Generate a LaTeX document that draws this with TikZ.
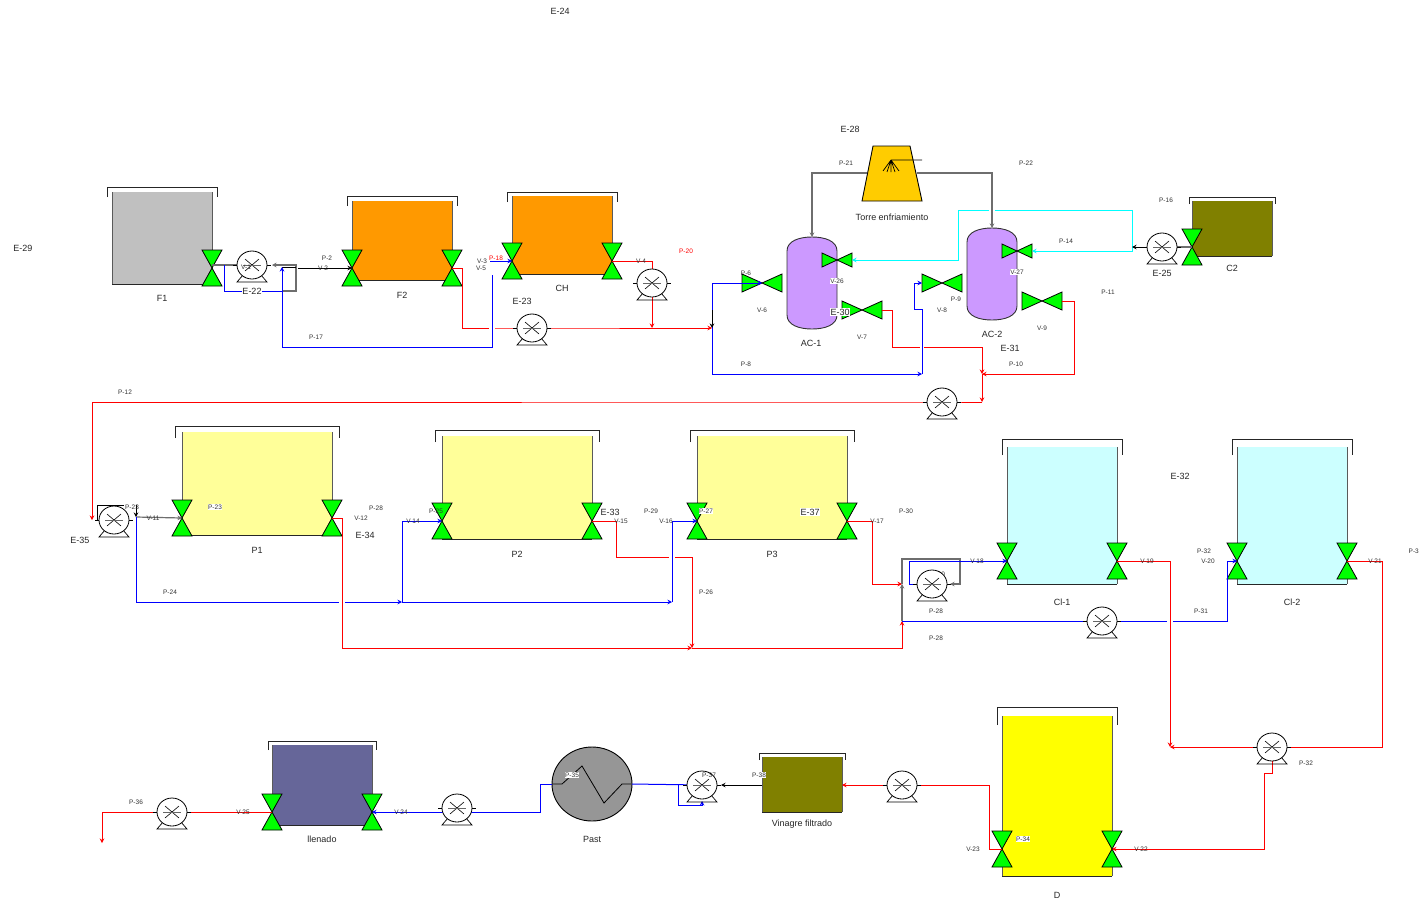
\documentclass[tikz,border=0pt]{standalone}
\usepackage{fontspec}
\setmainfont{Liberation Sans}
\usetikzlibrary{arrows.meta}
\definecolor{wallgray}{RGB}{90,90,90}
\definecolor{tankgray}{RGB}{192,192,192}
\definecolor{tankorange}{RGB}{255,153,0}
\definecolor{tankolive}{RGB}{128,128,0}
\definecolor{tankyellow}{RGB}{255,255,153}
\definecolor{tankcyan}{RGB}{204,255,255}
\definecolor{tankviolet}{RGB}{102,102,153}
\definecolor{tankpurple}{RGB}{204,153,255}
\definecolor{tankbright}{RGB}{255,255,0}
\definecolor{towergold}{RGB}{255,204,0}
\definecolor{pastgray}{RGB}{150,150,150}
\definecolor{pipered}{RGB}{255,0,0}
\definecolor{pipeblue}{RGB}{0,0,255}
\definecolor{pipecyan}{RGB}{0,255,255}
\definecolor{pipegray}{RGB}{110,110,110}
\definecolor{valvegreen}{RGB}{0,255,0}
\newcounter{labn}
\tikzset{
  x=1pt,y=-1pt,
  valvebody/.style={draw=black,fill=valvegreen,line width=0.8pt,line join=miter},
  tipped/.style={-{Stealth[length=4.5pt,width=4.5pt]}},
  redpipe/.style={draw=pipered,line width=1pt},
  bluepipe/.style={draw=pipeblue,line width=1pt},
  cyanpipe/.style={draw=pipecyan,line width=1pt},
  graypipe/.style={draw=pipegray,line width=1.2pt},
  blackpipe/.style={draw=black,line width=0.8pt},
  smalltext/.style={inner sep=0.5pt,font=\fontsize{6.5}{7}\selectfont,text=black!80},
  bigtext/.style={inner sep=0.5pt,font=\fontsize{9}{10}\selectfont,text=black!85},
  whitebg/.style={fill=white},
}
\newcommand{\tankbox}[8]{% x1 y1 x2 y2 colour drop offset rise
  \fill[#5] (#1,#2) rectangle (#3,#4);
  \draw[wallgray,line width=1pt] (#1,#2) -- (#1,#4);
  \draw[wallgray,line width=1pt] (#3,#2) -- (#3,#4);
  \draw[black!85,line width=1pt] (#1,#4) -- (#3,#4);
  \draw[black!85,line width=0.9pt] (#1-#7,#2+#6) -- (#1-#7,#2-#8) -- (#3+#7,#2-#8) -- (#3+#7,#2+#6);
}
\newcommand{\vvalve}[3]{% name x y
  \coordinate (#1) at (#2,#3);
  \draw[valvebody] (#2-10,#3-18) -- (#2+10,#3-18) -- (#2-10,#3+18) -- (#2+10,#3+18) -- cycle;
}
\newcommand{\hvalve}[5]{% name x y halfw halfh
  \coordinate (#1) at (#2,#3);
  \draw[valvebody] (#2-#4,#3-#5) -- (#2+#4,#3+#5) -- (#2+#4,#3-#5) -- (#2-#4,#3+#5) -- cycle;
}
\newcommand{\pumpsym}[3]{% name x y
  \coordinate (#1) at (#2,#3);
  \begin{scope}[shift={(#2,#3)}]
    \draw[black,line width=0.8pt] (-19,0) -- (-14,0) (14,0) -- (19,0);
    \draw[black,line width=0.7pt] (-9,10) -- (-15,17) -- (15,17) -- (9,10);
    \draw[black,fill=white,line width=0.8pt] (0,0) ellipse [x radius=15pt,y radius=14pt];
    \draw[black,line width=0.6pt] (-7,-6) -- (7,6) (-7,6) -- (7,-6);
    \draw[black!60,line width=0.8pt] (-9,0) -- (9,0);
  \end{scope}
}
\newcommand{\lab}[4][]{\stepcounter{labn}\node[smalltext,#1] (t\arabic{labn}) at (#2,#3) {#4};}
\newcommand{\labb}[4][]{\stepcounter{labn}\node[bigtext,#1] (t\arabic{labn}) at (#2,#3) {#4};}
\begin{document}
\begin{tikzpicture}
\useasboundingbox (0,0) rectangle (1420,900);
\fill[white] (0,0) rectangle (1420,900);

% hidden labels
\lab{938}{574}{P-30}

% tanks
\tankbox{112}{192}{212}{284}{tankgray}{5}{5}{5}
\tankbox{352}{201}{452}{280}{tankorange}{5}{5}{5}
\tankbox{512}{196}{612}{274}{tankorange}{6}{5}{4}
\tankbox{1192}{201}{1272}{256}{tankolive}{3}{3}{4}
\tankbox{182}{432}{332}{535}{tankyellow}{6}{7}{6}
\tankbox{442}{436}{592}{539}{tankyellow}{6}{7}{6}
\tankbox{697}{436}{847}{539}{tankyellow}{6}{7}{6}
\tankbox{1007}{447}{1117}{584}{tankcyan}{8}{5}{8}
\tankbox{1237}{447}{1347}{584}{tankcyan}{8}{5}{8}
\tankbox{1002}{716}{1112}{876}{tankbright}{9}{5}{9}
\tankbox{272}{745}{372}{825}{tankviolet}{5}{4}{4}
\tankbox{762}{757}{842}{812}{tankolive}{3}{3}{4}

% columns
\foreach \cx/\ct/\cb in {787/237/329,967/228/320}{
  \draw[black!80,fill=tankpurple,line width=0.9pt]
    (\cx,\ct+14) .. controls (\cx,\ct+4) and (\cx+12,\ct) .. (\cx+25,\ct)
    .. controls (\cx+38,\ct) and (\cx+50,\ct+4) .. (\cx+50,\ct+14)
    -- (\cx+50,\cb-14)
    .. controls (\cx+50,\cb-4) and (\cx+38,\cb) .. (\cx+25,\cb)
    .. controls (\cx+12,\cb) and (\cx,\cb-4) .. (\cx,\cb-14) -- cycle;
}

% cooling tower
\coordinate (towerL) at (867,173);
\coordinate (towerR) at (917,173);
\draw[black,fill=towergold,line width=0.9pt] (873,146) -- (910,146) -- (922,201) -- (862,201) -- cycle;
\coordinate (spray) at (891,160);
\draw[black,line width=0.7pt] (922,160) -- (spray) -- (883,171) (spray) -- (887,172) (spray) -- (891,172) (spray) -- (895,172) (spray) -- (899,171);

% exchanger
\coordinate (pastL) at (552,784);
\coordinate (pastR) at (632,784);
\draw[black,fill=pastgray,line width=0.9pt] (592,784) ellipse [x radius=40pt,y radius=37pt];
\draw[black,line width=0.8pt] (pastL) -- (562,784) -- (582,766) -- (604,803) -- (622,784) -- (pastR);

% valves
\vvalve{vF1}{212}{268}
\vvalve{vF2a}{352}{268}
\vvalve{vF2b}{452}{268}
\vvalve{vCHa}{512}{261}
\vvalve{vCHb}{612}{261}
\vvalve{vC2}{1192}{247}
\vvalve{vP1a}{182}{518}
\vvalve{vP1b}{332}{518}
\vvalve{vP2a}{442}{521}
\vvalve{vP2b}{592}{521}
\vvalve{vP3a}{697}{521}
\vvalve{vP3b}{847}{521}
\vvalve{vCaa}{1007}{561}
\vvalve{vCab}{1117}{561}
\vvalve{vCba}{1237}{561}
\vvalve{vCbb}{1347}{561}
\vvalve{vDa}{1002}{849}
\vvalve{vDb}{1112}{849}
\vvalve{vIa}{272}{812}
\vvalve{vIb}{372}{812}
\hvalve{v6}{762}{283}{20}{9}
\hvalve{v7}{862}{310}{20}{9}
\hvalve{v26}{837}{260}{15}{7}
\hvalve{v27}{1017}{251}{15}{7}
\hvalve{v8}{942}{283}{20}{9}
\hvalve{v9}{1042}{301}{20}{9}

% junction coordinates
\coordinate (pFeedE) at (282,267);
\coordinate (jR1) at (712,328);
\coordinate (jB1) at (922,374);
\coordinate (jR2) at (982,374);
\coordinate (jR3) at (982,402);
\coordinate (jR4) at (92,520);
\coordinate (jB2) at (136,517);
\coordinate (jB3) at (402,602);
\coordinate (jB4) at (672,602);
\coordinate (jR5) at (692,648);
\coordinate (jR6) at (902,621);
\coordinate (jR7) at (902,584);
\coordinate (jR8) at (1170,747);
\coordinate (jC1) at (1132,249);
\coordinate (colA) at (812,237);
\coordinate (colB) at (992,228);
\coordinate (outEnd) at (102,843);
\coordinate (vinL) at (762,785);
\coordinate (vinR) at (842,785);

% pumps coordinates used by pipes
\coordinate (p1) at (252,265);
\coordinate (p2) at (532,328);
\coordinate (p3) at (652,283);
\coordinate (p4) at (1162,247);
\coordinate (p5) at (942,402);
\coordinate (p6) at (114,520);
\coordinate (p7) at (932,584);
\coordinate (p8) at (1102,621);
\coordinate (p9) at (1272,747);
\coordinate (p10) at (902,785);
\coordinate (p11) at (702,785);
\coordinate (p12) at (457,808);
\coordinate (p13) at (172,812);

% first row pipes
\draw[graypipe] ([yshift=3pt]vF1) -- (p1);
\draw[bluepipe] (224,265) -- (224,291) -- (282,291);
\draw[graypipe,tipped] (282,291) -- (296,291) -- (296,265) -- (272,265);
\draw[blackpipe,tipped] (298,268) -- (vF2a);
\draw[blackpipe] (pFeedE) -- (296,267);
\draw[bluepipe,tipped] (492,275) -- (492,347) -- (282,347) -- (pFeedE);
\draw[bluepipe,tipped] (490,261) -- (vCHa);
\draw[redpipe] (vF2b) -- (462,268) -- (462,328) -- (489,328);
\draw[redpipe,tipped] (495,328) -- (p2) -- (jR1);
\draw[redpipe,tipped] (vCHb) -- (652,261) -- (p3) -- (652,328);

% absorbers
\draw[graypipe,tipped] (towerL) -- (812,173) -- (colA);
\draw[graypipe,tipped] (towerR) -- (992,173) -- (colB);
\draw[bluepipe,tipped] (712,283) -- (v6);
\draw[bluepipe,tipped] (712,283) -- (jR1) -- (712,374) -- (jB1);
\draw[bluepipe,tipped] (jB1) -- (922,309) -- (914,309) -- (914,283) -- (922,283);
\draw[blackpipe,tipped] (712,310) -- (jR1);
\draw[redpipe] ([xshift=20pt]v7) -- (892,310) -- (892,347) -- (920,347);
\draw[redpipe,tipped] (924,347) -- (982,347) -- (jR2);
\draw[redpipe,tipped] (jR2) -- (jR3);
\draw[redpipe,tipped] ([xshift=20pt]v9) -- (1074,301) -- (1074,374) -- (jR2);
\draw[redpipe,tipped] (jR3) -- (p5) -- (92,402) -- (jR4);
\draw[cyanpipe] (jC1) -- (1132,210) -- (995,210);
\draw[cyanpipe,tipped] (989,210) -- (958,210) -- (958,260) -- ([xshift=15pt]v26);
\draw[cyanpipe,tipped] (jC1) -- (1132,251) -- ([xshift=15pt]v27);
\draw[blackpipe,tipped] (p4) -- (1132,247);
\draw[graypipe] (vC2) -- (p4);

% second row pipes
\draw[blackpipe] (97,520) -- (97,505) -- (124,505);
\draw[blackpipe,tipped] (136,505) -- (jB2);
\draw[graypipe,tipped] (jB2) -- (vP1a);
\draw[bluepipe] (jB2) -- (136,602) -- (339,602);
\draw[bluepipe,tipped] (345,602) -- (jB3);
\draw[bluepipe,tipped] (jB3) -- (jB4);
\draw[bluepipe,tipped] (jB3) -- (402,521) -- (vP2a);
\draw[bluepipe,tipped] (jB4) -- (672,521) -- (vP3a);
\draw[redpipe] (vP1b) -- (342,518) -- (342,648);
\draw[redpipe] (vP2b) -- (616,521) -- (616,557) -- (669,557);
\draw[redpipe,tipped] (675,557) -- (692,557) -- (jR5);
\draw[redpipe,tipped] (342,648) -- (jR5);
\draw[redpipe,tipped] (jR5) -- (902,648) -- (jR6);
\draw[redpipe,tipped] (vP3b) -- (872,521) -- (872,584) -- (jR7);
\draw[graypipe,tipped] (jR6) -- (jR7);
\draw[graypipe,tipped] (jR7) -- (902,559) -- (960,559) -- (960,584) -- (950,584);
\draw[bluepipe,tipped] (p7) -- (909,584) -- (909,561) -- (vCaa);
\draw[bluepipe] (jR6) -- (p8) -- (1167,621);
\draw[bluepipe,tipped] (1173,621) -- (1227,621) -- (1227,561) -- (vCba);
\draw[redpipe,tipped] (vCab) -- (1170,561) -- (jR8);
\draw[redpipe,tipped] (vCbb) -- (1382,561) -- (1382,747) -- (p9) -- (jR8);

% third row pipes
\draw[redpipe,tipped] (p9) -- (1272,773) -- (1264,773) -- (1264,849) -- (vDb);
\draw[redpipe,tipped] (vDa) -- (989,849) -- (989,785) -- (p10) -- (vinR);
\draw[blackpipe,tipped] (vinL) -- (721,785);
\draw[bluepipe] (p11) -- (pastR);
\draw[bluepipe,tipped] (678,785) -- (678,805) -- (702,805) -- (702,801);
\draw[bluepipe] (pastL) -- (540,784) -- (540,812) -- (457,812);
\draw[bluepipe,tipped] (457,812) -- (vIb);
\draw[redpipe] (vIa) -- (p13);
\draw[redpipe,tipped] (p13) -- (102,812) -- (outEnd);

% pumps
\pumpsym{p1}{252}{265}
\pumpsym{p2}{532}{328}
\pumpsym{p3}{652}{283}
\pumpsym{p4}{1162}{247}
\pumpsym{p5}{942}{402}
\pumpsym{p6}{114}{520}
\pumpsym{p7}{932}{584}
\pumpsym{p8}{1102}{621}
\pumpsym{p9}{1272}{747}
\pumpsym{p10}{902}{785}
\pumpsym{p11}{702}{785}
\pumpsym{p12}{457}{808}
\pumpsym{p13}{172}{812}

% big labels
\labb{560}{11}{E-24}
\labb{850}{129}{E-28}
\labb{23}{248}{E-29}
\labb[whitebg]{252}{291}{E-22}
\labb{522}{301}{E-23}
\labb{1162}{273}{E-25}
\labb[whitebg]{840}{312}{E-30}
\labb{1010}{348}{E-31}
\labb{1180}{476}{E-32}
\labb{610}{512}{E-33}
\labb{365}{535}{E-34}
\labb{80}{540}{E-35}
\labb[whitebg]{810}{512}{E-37}
\labb{162}{298}{F1}
\labb{402}{295}{F2}
\labb{562}{288}{CH}
\labb{1232}{268}{C2}
\labb{811}{343}{AC-1}
\labb{992}{334}{AC-2}
\labb{257}{550}{P1}
\labb{517}{554}{P2}
\labb{772}{554}{P3}
\labb{1062}{602}{Cl-1}
\labb{1292}{602}{Cl-2}
\labb{1057}{895}{D}
\labb{322}{839}{llenado}
\labb{592}{839}{Past}
\labb{802}{824}{Vinagre filtrado}
\labb{892}{217}{Torre enfriamiento}

% small labels
\lab{246}{267}{V-1}
\lab{327}{258}{P-2}
\lab{323}{268}{V-2}
\lab{316}{337}{P-17}
\lab{482}{261}{V-3}
\lab{481}{268}{V-5}
\lab[text=pipered]{496}{258}{P-18}
\lab{641}{261}{V-4}
\lab[text=pipered]{686}{251}{P-20}
\lab{846}{163}{P-21}
\lab{1026}{163}{P-22}
\lab{1166}{200}{P-16}
\lab{1066}{241}{P-14}
\lab[whitebg]{837}{281}{V-26}
\lab[whitebg]{1017}{272}{V-27}
\lab{746}{273}{P-6}
\lab{762}{310}{V-6}
\lab{862}{337}{V-7}
\lab{956}{299}{P-9}
\lab{942}{310}{V-8}
\lab{1042}{328}{V-9}
\lab{1108}{292}{P-11}
\lab{1016}{364}{P-10}
\lab{746}{364}{P-8}
\lab{125}{392}{P-12}
\lab{132}{507}{P-23}
\lab{153}{518}{V-11}
\lab[whitebg]{215}{507}{P-23}
\lab{376}{508}{P-28}
\lab{361}{518}{V-12}
\lab{170}{592}{P-24}
\lab{413}{521}{V-14}
\lab{436}{511}{P-25}
\lab{621}{521}{V-15}
\lab{651}{511}{P-29}
\lab{666}{521}{V-16}
\lab[whitebg]{706}{511}{P-27}
\lab{706}{592}{P-26}
\lab{877}{521}{V-17}
\lab{906}{511}{P-30}
\lab{977}{561}{V-18}
\lab{1147}{561}{V-19}
\lab{1204}{551}{P-32}
\lab{1208}{561}{V-20}
\lab{1375}{561}{V-21}
\lab[anchor=west]{1408}{551}{P-3}
\lab{936}{611}{P-28}
\lab{936}{638}{P-28}
\lab{1201}{611}{P-31}
\lab{1306}{763}{P-32}
\lab{1141}{849}{V-22}
\lab{973}{849}{V-23}
\lab[whitebg]{1023}{839}{P-34}
\lab[whitebg]{759}{775}{P-38}
\lab{709}{775}{P-37}
\lab[whitebg]{572}{775}{P-35}
\lab{136}{802}{P-36}
\lab{243}{812}{V-25}
\lab{401}{812}{V-24}
\end{tikzpicture}
\end{document}
